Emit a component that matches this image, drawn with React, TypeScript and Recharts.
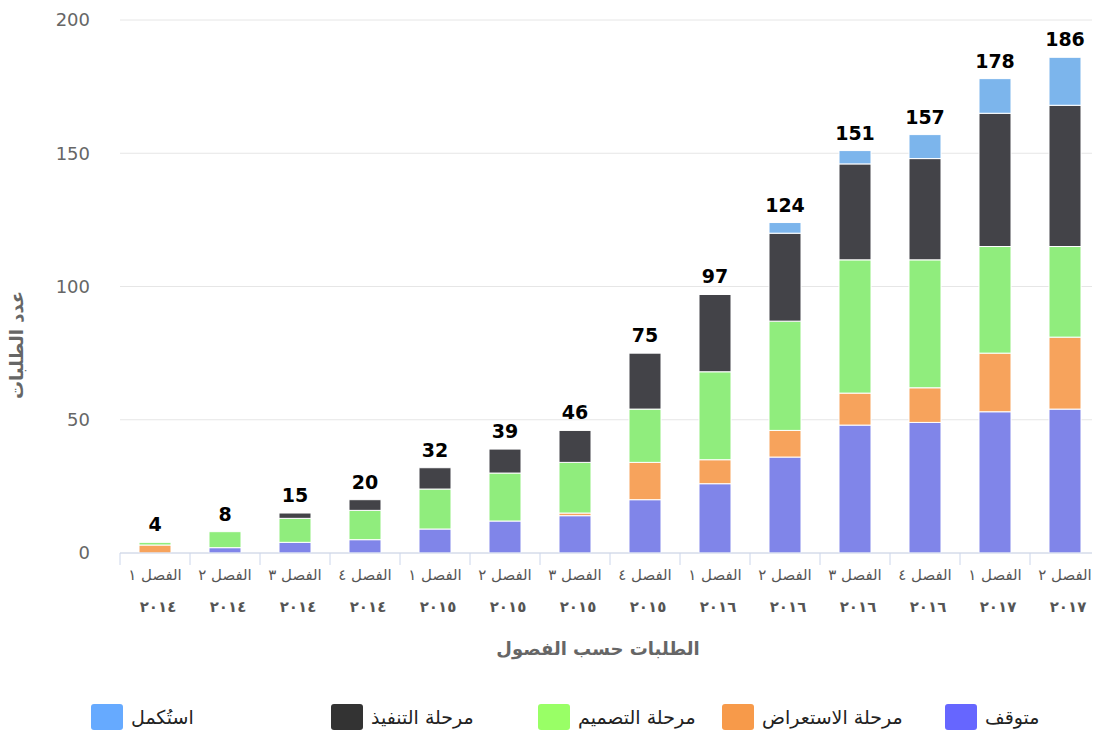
import React from 'react';
import { ComposedChart, Bar, Line, XAxis, YAxis, CartesianGrid, LabelList, Label } from 'recharts';

const quarters = ['الفصل ١', 'الفصل ٢', 'الفصل ٣', 'الفصل ٤', 'الفصل ١', 'الفصل ٢', 'الفصل ٣', 'الفصل ٤', 'الفصل ١', 'الفصل ٢', 'الفصل ٣', 'الفصل ٤', 'الفصل ١', 'الفصل ٢'];
const years = ['٢٠١٤', '٢٠١٤', '٢٠١٤', '٢٠١٤', '٢٠١٥', '٢٠١٥', '٢٠١٥', '٢٠١٥', '٢٠١٦', '٢٠١٦', '٢٠١٦', '٢٠١٦', '٢٠١٧', '٢٠١٧'];

const stopped = [0, 2, 4, 5, 9, 12, 14, 20, 26, 36, 48, 49, 53, 54];
const review = [3, 0, 0, 0, 0, 0, 1, 14, 9, 10, 12, 13, 22, 27];
const design = [1, 6, 9, 11, 15, 18, 19, 20, 33, 41, 50, 48, 40, 34];
const implementation = [0, 0, 2, 4, 8, 9, 12, 21, 29, 33, 36, 38, 50, 53];
const completed = [0, 0, 0, 0, 0, 0, 0, 0, 0, 4, 5, 9, 13, 18];

const yTicks = [0, 50, 100, 150, 200];

const series = [
  { key: 'stopped', name: 'متوقف', color: '#8085e9', legend: '#6666ff' },
  { key: 'review', name: 'مرحلة الاستعراض', color: '#f7a35c', legend: '#f79a4a' },
  { key: 'design', name: 'مرحلة التصميم', color: '#90ed7d', legend: '#99ff66' },
  { key: 'implementation', name: 'مرحلة التنفيذ', color: '#434348', legend: '#333333' },
  { key: 'completed', name: 'استُكمل', color: '#7cb5ec', legend: '#66aaff' },
];

const data = quarters.map((q, i) => ({
  quarter: q,
  year: years[i],
  stopped: stopped[i],
  review: review[i],
  design: design[i],
  implementation: implementation[i],
  completed: completed[i],
  total: stopped[i] + review[i] + design[i] + implementation[i] + completed[i],
}));

const FONT = '"DejaVu Sans", sans-serif';

// legend item left edges, highcharts rtl ordering (rightmost = first series)
const legendLeft: Record<string, number> = {
  completed: 91,
  implementation: 331,
  design: 538,
  review: 722,
  stopped: 945,
};

function QuarterTick(props: any) {
  const { x, y, payload } = props;
  const i = payload.index;
  const half = payload.offset || 35;
  return (
    <g>
      <line x1={x - half} y1={y} x2={x - half} y2={y + 12} stroke="#ccd6eb" strokeWidth={1} />
      <text x={x} y={y + 27} textAnchor="middle" fill="#555" fontSize={15} fontFamily={FONT} direction="rtl">
        {quarters[i]}
      </text>
      <text x={x + 3} y={y + 59} textAnchor="middle" fill="#555" fontSize={15} fontWeight="bold" fontFamily={FONT} letterSpacing={6}>
        {years[i]}
      </text>
    </g>
  );
}

export default function App() {
  return (
    <div style={{ position: 'relative', width: 1100, height: 743, margin: -8, background: '#fff' }}>
      <ComposedChart width={1100} height={743} data={data} margin={{ top: 20, right: 0, left: 0, bottom: 0 }}>
        <CartesianGrid vertical={false} stroke="#e6e6e6" />
        <XAxis
          dataKey="quarter"
          height={190}
          axisLine={{ stroke: '#ccd6eb' }}
          tickLine={false}
          tickSize={0}
          tickMargin={0}
          interval={0}
          tick={<QuarterTick />}
        >
          <Label
            content={() => (
              <text x={598} y={655} textAnchor="middle" fill="#666" fontSize={18} fontWeight="bold" fontFamily={FONT} direction="rtl">
                الطلبات حسب الفصول
              </text>
            )}
          />
        </XAxis>
        <YAxis
          width={120}
          domain={[0, 200]}
          ticks={yTicks}
          axisLine={false}
          tickLine={false}
          tickSize={6}
          tickMargin={24}
          tick={{ fill: '#666', fontSize: 18, fontFamily: FONT }}
        >
          <Label
            content={() => (
              <text
                x={18}
                y={345}
                transform="rotate(-90, 18, 345)"
                textAnchor="middle"
                dominantBaseline="middle"
                fill="#666"
                fontSize={18}
                fontWeight="bold"
                fontFamily={FONT}
                direction="rtl"
              >
                عدد الطلبات
              </text>
            )}
          />
        </YAxis>
        {series.map((s) => (
          <Bar
            key={s.key}
            dataKey={s.key}
            name={s.name}
            stackId="a"
            fill={s.color}
            stroke="#fff"
            strokeWidth={1}
            barSize={32}
            isAnimationActive={false}
          />
        ))}
        <Line
          dataKey="total"
          stroke="none"
          dot={false}
          activeDot={false}
          legendType="none"
          isAnimationActive={false}
        >
          <LabelList dataKey="total" position="top" offset={11} fill="#000" fontSize={19} fontWeight="bold" fontFamily={FONT} />
        </Line>
      </ComposedChart>
      {series.map((s) => (
        <div
          key={s.key}
          style={{
            position: 'absolute',
            left: legendLeft[s.key],
            top: 704,
            display: 'flex',
            alignItems: 'center',
            fontFamily: FONT,
            fontSize: 19,
            color: '#222',
            whiteSpace: 'nowrap',
          }}
        >
          <span style={{ display: 'inline-block', width: 32, height: 26, borderRadius: 3, background: s.legend, marginRight: 8 }} />
          <span dir="rtl">{s.name}</span>
        </div>
      ))}
    </div>
  );
}
